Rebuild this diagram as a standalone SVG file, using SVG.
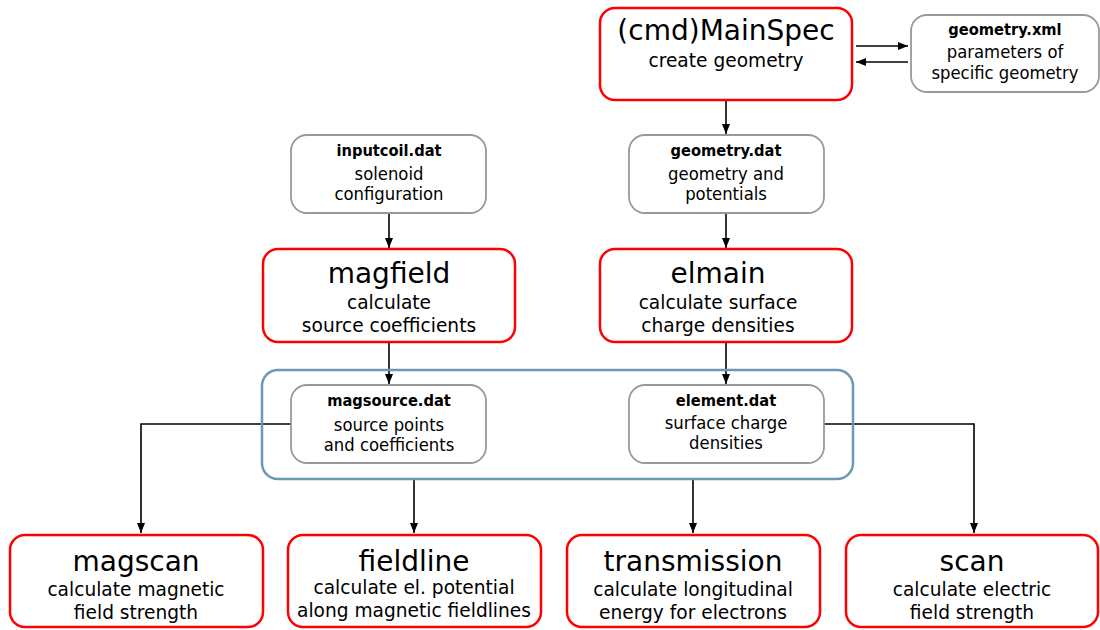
<svg xmlns="http://www.w3.org/2000/svg" width="1100" height="630" viewBox="0 0 1100 630">
<defs>
<marker id="ah" viewBox="0 0 10 10" refX="10" refY="5" markerWidth="10" markerHeight="10" markerUnits="userSpaceOnUse" orient="auto">
<path d="M0,1 L10,5 L0,9 Z" fill="#000"/>
</marker>
</defs>
<style>
.prog{fill:#fff;stroke:#f00;stroke-width:2.5}
.data{fill:#fff;stroke:#999;stroke-width:1.8}
.cont{fill:none;stroke:#6a9ab0;stroke-width:2.5}
.t{font-family:"DejaVu Sans",sans-serif;text-anchor:middle;fill:#000}
.pt{font-size:28px}
.ps{font-size:18.6px}
.dt{font-family:"DejaVu Sans Condensed","DejaVu Sans",sans-serif;font-size:16.3px;font-weight:bold;text-anchor:middle}
.ds{font-family:"DejaVu Sans Condensed","DejaVu Sans",sans-serif;font-size:18.3px;text-anchor:middle}
.c{fill:none;stroke:#000;stroke-width:1.6}
</style>
<g id="connectors">
<path class="c" d="M856,46 H908" marker-end="url(#ah)"/>
<path class="c" d="M908,62 H856" marker-end="url(#ah)"/>
<path class="c" d="M726,100 V134" marker-end="url(#ah)"/>
<path class="c" d="M389,213 V248" marker-end="url(#ah)"/>
<path class="c" d="M726,213 V248" marker-end="url(#ah)"/>
<path class="c" d="M389,342 V384" marker-end="url(#ah)"/>
<path class="c" d="M726,342 V384" marker-end="url(#ah)"/>
<path class="c" d="M291,424 H141 V533" marker-end="url(#ah)"/>
<path class="c" d="M824,424 H974 V533" marker-end="url(#ah)"/>
<path class="c" d="M414,479 V533" marker-end="url(#ah)"/>
<path class="c" d="M693,479 V533" marker-end="url(#ah)"/>
</g>
<g id="container">
<rect class="cont" x="262" y="370" width="591" height="109" rx="16"/>
</g>
<g id="mainspec">
<rect class="prog" x="600" y="8" width="252" height="92" rx="15"/>
<text class="t pt" x="726" y="40">(cmd)MainSpec</text>
<text class="t ps" x="726" y="67">create geometry</text>
</g>
<g id="geometryxml">
<rect class="data" x="911" y="15" width="188" height="77" rx="16"/>
<text class="dt" x="1005" y="35">geometry.xml</text>
<text class="ds" x="1005" y="58">parameters of</text>
<text class="ds" x="1005" y="79">specific geometry</text>
</g>
<g id="inputcoil">
<rect class="data" x="291" y="135" width="195" height="78" rx="16"/>
<text class="dt" x="389" y="156">inputcoil.dat</text>
<text class="ds" x="389" y="180">solenoid</text>
<text class="ds" x="389" y="200">configuration</text>
</g>
<g id="geometrydat">
<rect class="data" x="629" y="135" width="195" height="78" rx="16"/>
<text class="dt" x="726" y="156">geometry.dat</text>
<text class="ds" x="726" y="180">geometry and</text>
<text class="ds" x="726" y="200">potentials</text>
</g>
<g id="magfield">
<rect class="prog" x="263" y="249" width="252" height="93" rx="15"/>
<text class="t pt" x="389" y="283">magfield</text>
<text class="t ps" x="389" y="309">calculate</text>
<text class="t ps" x="389" y="332">source coefficients</text>
</g>
<g id="elmain">
<rect class="prog" x="600" y="249" width="252" height="93" rx="15"/>
<text class="t pt" x="718" y="283">elmain</text>
<text class="t ps" x="718" y="309">calculate surface</text>
<text class="t ps" x="718" y="332">charge densities</text>
</g>
<g id="magsource">
<rect class="data" x="291" y="385" width="195" height="78" rx="16"/>
<text class="dt" x="389" y="406">magsource.dat</text>
<text class="ds" x="389" y="431">source points</text>
<text class="ds" x="389" y="451">and coefficients</text>
</g>
<g id="element">
<rect class="data" x="629" y="385" width="195" height="78" rx="16"/>
<text class="dt" x="726" y="406">element.dat</text>
<text class="ds" x="726" y="429">surface charge</text>
<text class="ds" x="726" y="449">densities</text>
</g>
<g id="magscan">
<rect class="prog" x="10" y="535" width="253" height="92" rx="15"/>
<text class="t pt" x="136" y="571">magscan</text>
<text class="t ps" x="136" y="596">calculate magnetic</text>
<text class="t ps" x="136" y="619">field strength</text>
</g>
<g id="fieldline">
<rect class="prog" x="288" y="535" width="253" height="92" rx="15"/>
<text class="t pt" x="414" y="571">fieldline</text>
<text class="t ps" x="414" y="594">calculate el. potential</text>
<text class="t ps" x="414" y="617">along magnetic fieldlines</text>
</g>
<g id="transmission">
<rect class="prog" x="567" y="535" width="253" height="92" rx="15"/>
<text class="t pt" x="693" y="571">transmission</text>
<text class="t ps" x="693" y="596">calculate longitudinal</text>
<text class="t ps" x="693" y="619">energy for electrons</text>
</g>
<g id="scan">
<rect class="prog" x="846" y="535" width="252" height="92" rx="15"/>
<text class="t pt" x="972" y="571">scan</text>
<text class="t ps" x="972" y="596">calculate electric</text>
<text class="t ps" x="972" y="619">field strength</text>
</g>
</svg>
